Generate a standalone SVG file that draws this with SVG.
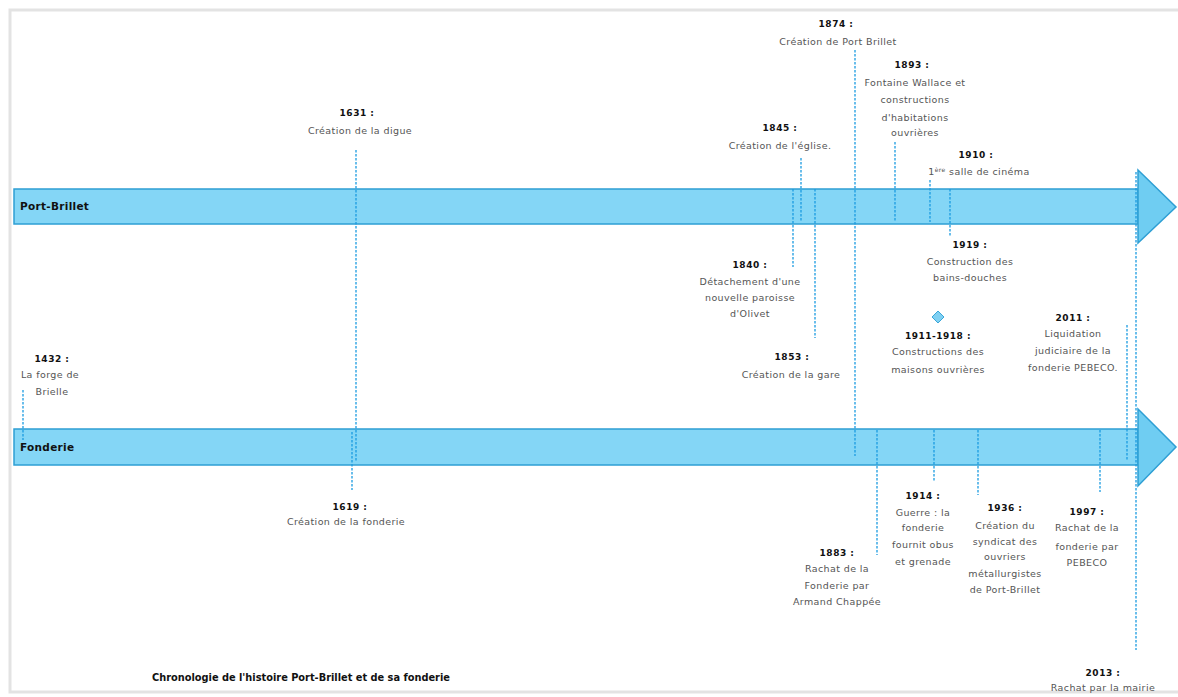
<svg xmlns="http://www.w3.org/2000/svg" width="1178" height="697" viewBox="0 0 1178 697">
<style>
.frame{fill:#ffffff;stroke:#e3e3e3;stroke-width:3}
.bar{fill:#84d6f6;stroke:#2e9fd4;stroke-width:1.5}
.head{fill:#6fcdf2;stroke:#2e9fd4;stroke-width:1.5}
.lbl{font-family:"DejaVu Sans",sans-serif;font-size:10.5px;font-weight:bold;fill:#111;letter-spacing:0.3px}
.yr{font-family:"DejaVu Sans",sans-serif;font-size:9px;font-weight:bold;fill:#111;text-anchor:middle;letter-spacing:0.5px}
.tx{font-family:"DejaVu Sans",sans-serif;font-size:9.5px;fill:#555;text-anchor:middle;letter-spacing:0.4px}
.title{font-family:"DejaVu Sans",sans-serif;font-size:9.8px;font-weight:bold;fill:#111}
.dash{stroke:#1b9be0;stroke-width:1.3;stroke-dasharray:2.5 1.5;fill:none}
</style>
<rect class="frame" x="10" y="10" width="1180" height="682"/>
<g id="timeline-port-brillet">
<rect class="bar" x="14" y="189" width="1124" height="35"/>
<polygon class="head" points="1138,170 1176,207 1138,243"/>
<text class="lbl" x="20" y="210">Port-Brillet</text>
</g>
<g id="timeline-fonderie">
<rect class="bar" x="14" y="429" width="1124" height="36"/>
<polygon class="head" points="1138,409 1176,447 1138,486"/>
<text class="lbl" x="20" y="451">Fonderie</text>
</g>
<g id="connectors">
<line class="dash" x1="23" y1="390" x2="23" y2="440"/>
<line class="dash" x1="356" y1="150" x2="356" y2="462"/>
<line class="dash" x1="352" y1="432" x2="352" y2="490"/>
<line class="dash" x1="793" y1="189" x2="793" y2="267"/>
<line class="dash" x1="801" y1="158" x2="801" y2="222"/>
<line class="dash" x1="815" y1="189" x2="815" y2="338"/>
<line class="dash" x1="855" y1="50" x2="855" y2="456"/>
<line class="dash" x1="877" y1="430" x2="877" y2="555"/>
<line class="dash" x1="895" y1="142" x2="895" y2="222"/>
<line class="dash" x1="930" y1="180" x2="930" y2="222"/>
<line class="dash" x1="934" y1="430" x2="934" y2="482"/>
<line class="dash" x1="950" y1="189" x2="950" y2="236"/>
<line class="dash" x1="978" y1="430" x2="978" y2="495"/>
<line class="dash" x1="1100" y1="430" x2="1100" y2="492"/>
<line class="dash" x1="1127" y1="325" x2="1127" y2="460"/>
<line class="dash" x1="1136" y1="172" x2="1136" y2="650"/>
</g>
<g id="ev-1432"><text class="yr" x="52" y="362">1432 :</text><text class="tx" x="50" y="378">La forge de</text><text class="tx" x="52" y="395">Brielle</text></g>
<g id="ev-1631"><text class="yr" x="357" y="116">1631 :</text><text class="tx" x="360" y="134">Création de la digue</text></g>
<g id="ev-1619"><text class="yr" x="350" y="510">1619 :</text><text class="tx" x="346" y="525">Création de la fonderie</text></g>
<g id="ev-1840"><text class="yr" x="750" y="268">1840 :</text><text class="tx" x="750" y="285">Détachement d'une</text><text class="tx" x="750" y="301">nouvelle paroisse</text><text class="tx" x="750" y="317">d'Olivet</text></g>
<g id="ev-1845"><text class="yr" x="780" y="131">1845 :</text><text class="tx" x="780" y="149">Création de l'église.</text></g>
<g id="ev-1853"><text class="yr" x="792" y="360">1853 :</text><text class="tx" x="791" y="378">Création de la gare</text></g>
<g id="ev-1874"><text class="yr" x="836" y="27">1874 :</text><text class="tx" x="838" y="45">Création de Port Brillet</text></g>
<g id="ev-1883"><text class="yr" x="837" y="556">1883 :</text><text class="tx" x="837" y="572">Rachat de la</text><text class="tx" x="837" y="589">Fonderie par</text><text class="tx" x="837" y="605">Armand Chappée</text></g>
<g id="ev-1893"><text class="yr" x="912" y="68">1893 :</text><text class="tx" x="915" y="86">Fontaine Wallace et</text><text class="tx" x="915" y="103">constructions</text><text class="tx" x="915" y="121">d'habitations</text><text class="tx" x="915" y="136">ouvrières</text></g>
<g id="ev-1910"><text class="yr" x="976" y="158">1910 :</text><text class="tx" x="979" y="175">1<tspan font-size="6" baseline-shift="super">ère</tspan> salle de cinéma</text></g>
<g id="ev-1911"><polygon points="938,311 944,317 938,323 932,317" fill="#7fd0f2" stroke="#3aa6d8" stroke-width="1"/><text class="yr" x="938" y="339">1911-1918 :</text><text class="tx" x="938" y="355">Constructions des</text><text class="tx" x="938" y="373">maisons ouvrières</text></g>
<g id="ev-1914"><text class="yr" x="923" y="499">1914 :</text><text class="tx" x="923" y="516">Guerre : la</text><text class="tx" x="923" y="531">fonderie</text><text class="tx" x="923" y="548">fournit obus</text><text class="tx" x="923" y="565">et grenade</text></g>
<g id="ev-1919"><text class="yr" x="970" y="248">1919 :</text><text class="tx" x="970" y="265">Construction des</text><text class="tx" x="970" y="281">bains-douches</text></g>
<g id="ev-1936"><text class="yr" x="1005" y="511">1936 :</text><text class="tx" x="1005" y="529">Création du</text><text class="tx" x="1005" y="545">syndicat des</text><text class="tx" x="1005" y="560">ouvriers</text><text class="tx" x="1005" y="577">métallurgistes</text><text class="tx" x="1005" y="593">de Port-Brillet</text></g>
<g id="ev-1997"><text class="yr" x="1087" y="515">1997 :</text><text class="tx" x="1087" y="531">Rachat de la</text><text class="tx" x="1087" y="550">fonderie par</text><text class="tx" x="1087" y="566">PEBECO</text></g>
<g id="ev-2011"><text class="yr" x="1073" y="321">2011 :</text><text class="tx" x="1073" y="337">Liquidation</text><text class="tx" x="1073" y="354">judiciaire de la</text><text class="tx" x="1073" y="371">fonderie PEBECO.</text></g>
<g id="ev-2013"><text class="yr" x="1103" y="676">2013 :</text><text class="tx" x="1103" y="691">Rachat par la mairie</text></g>
<g id="title"><text class="title" x="152" y="681">Chronologie de l'histoire Port-Brillet et de sa fonderie</text></g>
</svg>
